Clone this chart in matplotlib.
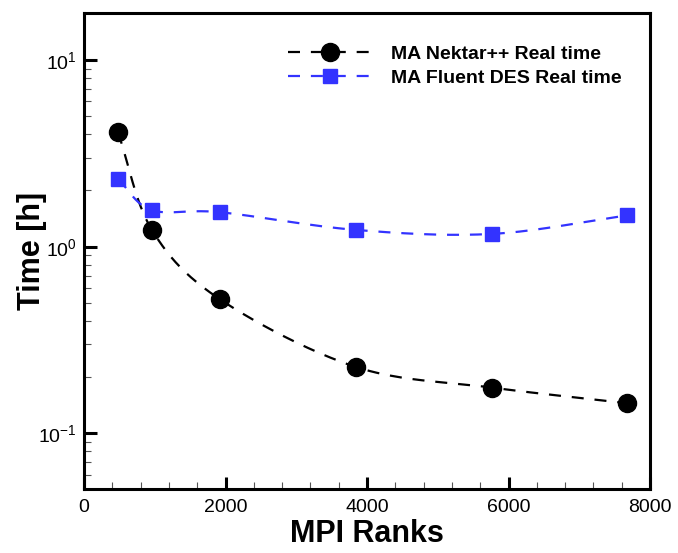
import numpy as np
import matplotlib
matplotlib.use("Agg")
import matplotlib.pyplot as plt
from matplotlib.lines import Line2D
from matplotlib.ticker import MultipleLocator, LogLocator

plt.rcParams['font.family'] = ['Liberation Sans', 'DejaVu Sans']
plt.rcParams['mathtext.fontset'] = 'custom'
plt.rcParams['mathtext.rm'] = 'Liberation Sans'
plt.rcParams['mathtext.it'] = 'Liberation Sans'
plt.rcParams['mathtext.bf'] = 'Liberation Sans:bold'

ranks = [480, 960, 1920, 3840, 5760, 7680]
nektar_time = [4.10, 1.23, 0.523, 0.227, 0.176, 0.145]
fluent_time = [2.30, 1.57, 1.53, 1.23, 1.17, 1.47]
labels = ["MA Nektar++ Real time", "MA Fluent DES Real time"]
xticks = [0, 2000, 4000, 6000, 8000]


def smooth(x, y, n=40):
    """Catmull-Rom curve through the points (in x, log10 y) for line rendering."""
    x = np.asarray(x, float)
    ly = np.log10(np.asarray(y, float))
    P = np.column_stack([x, ly])
    P = np.vstack([2 * P[0] - P[1], P, 2 * P[-1] - P[-2]])
    out = []
    t = np.linspace(0, 1, n)[:, None]
    for i in range(1, len(P) - 2):
        p0, p1, p2, p3 = P[i - 1], P[i], P[i + 1], P[i + 2]
        seg = 0.5 * ((2 * p1) + (-p0 + p2) * t + (2 * p0 - 5 * p1 + 4 * p2 - p3) * t ** 2
                     + (-p0 + 3 * p1 - 3 * p2 + p3) * t ** 3)
        out.append(seg if i == len(P) - 3 else seg[:-1])
    S = np.vstack(out)
    return S[:, 0], 10 ** S[:, 1]


fig = plt.figure(figsize=(6.78, 5.53), dpi=100)
ax = fig.add_axes([84 / 678, 1 - 489 / 553, (650 - 84) / 678, (489 - 13.3) / 553])

blue = '#3333FF'
dash = (5.4, 4.9)
lw = 1.6

sx, sy = smooth(ranks, nektar_time)
ax.plot(sx, sy, color='black', lw=lw, ls=(0, dash), zorder=2)
ax.plot(ranks, nektar_time, ls='none', marker='o', ms=13, color='black', zorder=3)

sx, sy = smooth(ranks, fluent_time)
ax.plot(sx, sy, color=blue, lw=lw, ls=(0, dash), zorder=2)
ax.plot(ranks, fluent_time, ls='none', marker='s', ms=9.5, color=blue, zorder=3)

ax.set_yscale('log')
ax.set_xlim(0, 8000)
ax.set_ylim(10 ** -1.298, 10 ** 1.25)
ax.set_xticks(xticks)
ax.xaxis.set_minor_locator(MultipleLocator(400))
ax.yaxis.set_major_locator(LogLocator(base=10))
ax.yaxis.set_minor_locator(LogLocator(base=10, subs=np.arange(2, 10)))

for s in ax.spines.values():
    s.set_linewidth(2.2)
ax.tick_params(which='major', direction='in', length=9, width=2.2, labelsize=14, pad=5,
               top=False, right=False)
ax.tick_params(which='minor', direction='in', length=5, width=0.8, color='#555555',
               top=False, right=False)
ax.tick_params(axis='x', which='major', pad=7)

ax.set_xlabel("MPI Ranks", fontsize=22, fontweight='bold', labelpad=2)
ax.set_ylabel("Time [h]", fontsize=22, fontweight='bold')
ax.yaxis.set_label_coords(-0.065, 0.5)

handles = [
    Line2D([], [], color='black', lw=lw, ls=(0, dash), marker='o', ms=13),
    Line2D([], [], color=blue, lw=lw, ls=(0, dash), marker='s', ms=9.5),
]
leg = ax.legend(handles, labels, loc='upper left', bbox_to_anchor=(0.33, 0.97),
                frameon=False, handlelength=4.3, handletextpad=1.0, labelspacing=0.35,
                prop={'weight': 'bold', 'size': 14}, markerscale=1.0)

fig.savefig("out.png", dpi=100)
